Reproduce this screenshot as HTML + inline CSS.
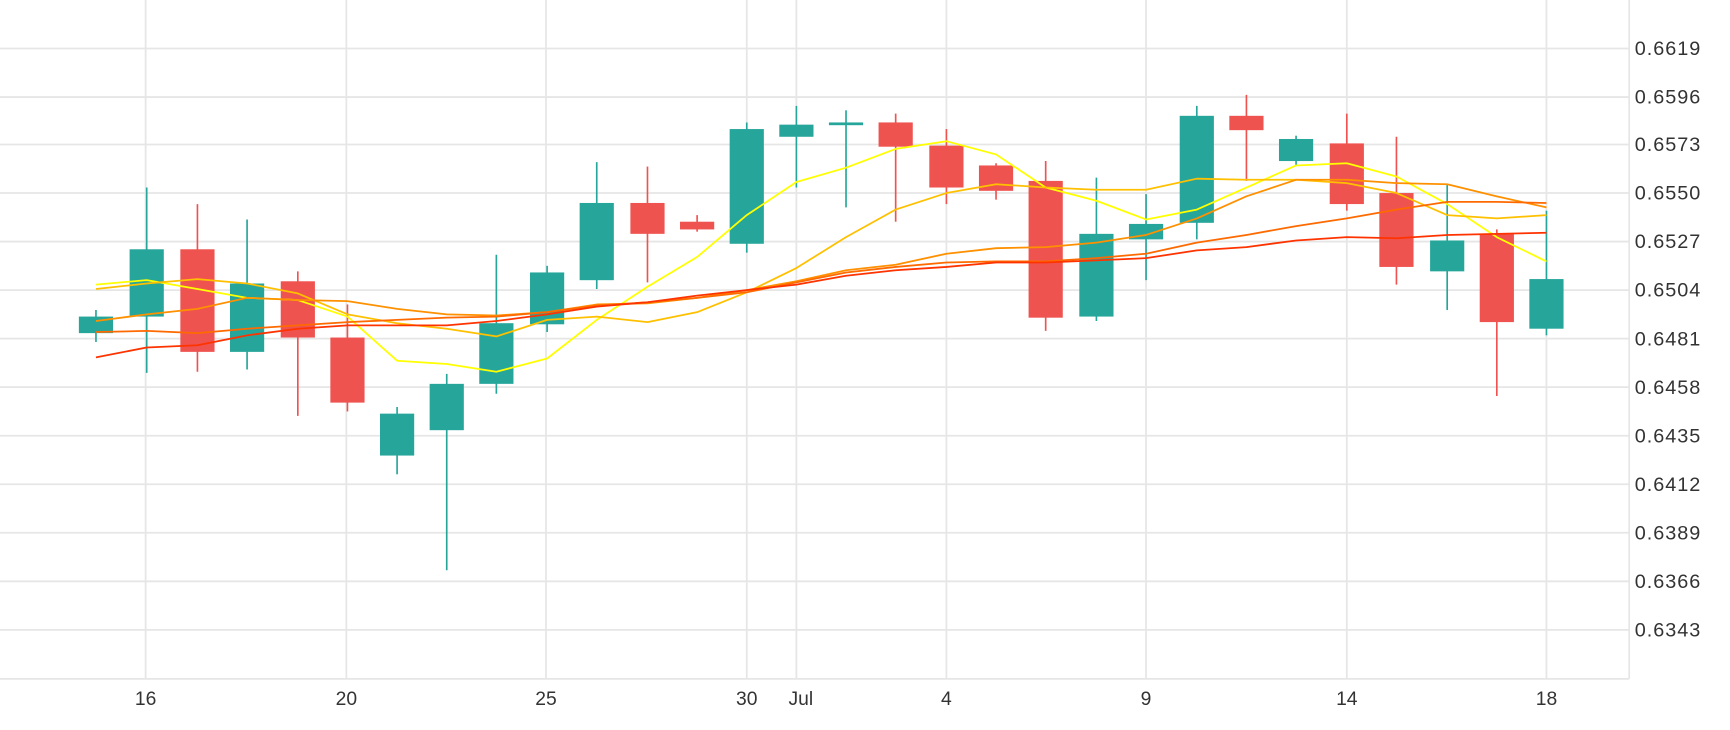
<!DOCTYPE html>
<html><head><meta charset="utf-8"><style>
html,body{margin:0;padding:0;background:#fff;}
svg{display:block;}
text{font-family:"Liberation Sans",sans-serif;fill:#333;font-size:17.5px;}
.y text{font-size:18px;letter-spacing:0.9px;}
</style></head><body>
<svg width="1730" height="730" viewBox="0 0 1568.4 661.8" preserveAspectRatio="none" xmlns="http://www.w3.org/2000/svg">
<g stroke="#e6e6e6" stroke-width="1.6">
<line x1="0" y1="44" x2="1477" y2="44"/><line x1="0" y1="88" x2="1477" y2="88"/><line x1="0" y1="131" x2="1477" y2="131"/><line x1="0" y1="175" x2="1477" y2="175"/><line x1="0" y1="219" x2="1477" y2="219"/><line x1="0" y1="263" x2="1477" y2="263"/><line x1="0" y1="307" x2="1477" y2="307"/><line x1="0" y1="351" x2="1477" y2="351"/><line x1="0" y1="395" x2="1477" y2="395"/><line x1="0" y1="439" x2="1477" y2="439"/><line x1="0" y1="483" x2="1477" y2="483"/><line x1="0" y1="527" x2="1477" y2="527"/><line x1="0" y1="571" x2="1477" y2="571"/>
<line x1="0" y1="615.5" x2="1477" y2="615.5"/>
<line x1="1477" y1="0" x2="1477" y2="615.5"/>
<line x1="132" y1="0" x2="132" y2="615"/><line x1="314" y1="0" x2="314" y2="615"/><line x1="495" y1="0" x2="495" y2="615"/><line x1="677" y1="0" x2="677" y2="615"/><line x1="722" y1="0" x2="722" y2="615"/><line x1="858" y1="0" x2="858" y2="615"/><line x1="1039" y1="0" x2="1039" y2="615"/><line x1="1221" y1="0" x2="1221" y2="615"/><line x1="1402" y1="0" x2="1402" y2="615"/>
</g>
<g class="y">
<text x="1482" y="50">0.6619</text><text x="1482" y="94">0.6596</text><text x="1482" y="137">0.6573</text><text x="1482" y="181">0.6550</text><text x="1482" y="225">0.6527</text><text x="1482" y="269">0.6504</text><text x="1482" y="313">0.6481</text><text x="1482" y="357">0.6458</text><text x="1482" y="401">0.6435</text><text x="1482" y="445">0.6412</text><text x="1482" y="489">0.6389</text><text x="1482" y="533">0.6366</text><text x="1482" y="577">0.6343</text>
</g>
<g text-anchor="middle">
<text x="132" y="639">16</text><text x="314" y="639">20</text><text x="495" y="639">25</text><text x="677" y="639">30</text><text x="726" y="639">Jul</text><text x="858" y="639">4</text><text x="1039" y="639">9</text><text x="1221" y="639">14</text><text x="1402" y="639">18</text>
</g>
<g stroke-width="1.5">
<g stroke="#26a69a" fill="#26a69a">
<line x1="87" x2="87" y1="281" y2="310"/><rect x="71.5" y="287" width="31" height="15" stroke="none"/>
<line x1="133" x2="133" y1="170" y2="338"/><rect x="117.5" y="226" width="31" height="61" stroke="none"/>
<line x1="224" x2="224" y1="199" y2="335"/><rect x="208.5" y="257" width="31" height="62" stroke="none"/>
<line x1="360" x2="360" y1="369" y2="430"/><rect x="344.5" y="375" width="31" height="38" stroke="none"/>
<line x1="405" x2="405" y1="339" y2="517"/><rect x="389.5" y="348" width="31" height="42" stroke="none"/>
<line x1="450" x2="450" y1="231" y2="357"/><rect x="434.5" y="293" width="31" height="55" stroke="none"/>
<line x1="496" x2="496" y1="241" y2="301"/><rect x="480.5" y="247" width="31" height="47" stroke="none"/>
<line x1="541" x2="541" y1="147" y2="262"/><rect x="525.5" y="184" width="31" height="70" stroke="none"/>
<line x1="677" x2="677" y1="111" y2="229"/><rect x="661.5" y="117" width="31" height="104" stroke="none"/>
<line x1="722" x2="722" y1="96" y2="170"/><rect x="706.5" y="113" width="31" height="11" stroke="none"/>
<line x1="767" x2="767" y1="100" y2="188"/><rect x="751.5" y="111" width="31" height="2.5" stroke="none"/>
<line x1="994" x2="994" y1="161" y2="291"/><rect x="978.5" y="212" width="31" height="75" stroke="none"/>
<line x1="1039" x2="1039" y1="176" y2="254"/><rect x="1023.5" y="203" width="31" height="14" stroke="none"/>
<line x1="1085" x2="1085" y1="96" y2="217"/><rect x="1069.5" y="105" width="31" height="97" stroke="none"/>
<line x1="1175" x2="1175" y1="123" y2="150"/><rect x="1159.5" y="126" width="31" height="20" stroke="none"/>
<line x1="1312" x2="1312" y1="167" y2="281"/><rect x="1296.5" y="218" width="31" height="28" stroke="none"/>
<line x1="1402" x2="1402" y1="191" y2="304"/><rect x="1386.5" y="253" width="31" height="45" stroke="none"/>
</g>
<g stroke="#ef5350" fill="#ef5350">
<line x1="179" x2="179" y1="185" y2="337"/><rect x="163.5" y="226" width="31" height="93" stroke="none"/>
<line x1="270" x2="270" y1="246" y2="377"/><rect x="254.5" y="255" width="31" height="51" stroke="none"/>
<line x1="315" x2="315" y1="276" y2="373"/><rect x="299.5" y="306" width="31" height="59" stroke="none"/>
<line x1="587" x2="587" y1="151" y2="256"/><rect x="571.5" y="184" width="31" height="28" stroke="none"/>
<line x1="632" x2="632" y1="195" y2="210"/><rect x="616.5" y="201" width="31" height="7" stroke="none"/>
<line x1="812" x2="812" y1="103" y2="201"/><rect x="796.5" y="111" width="31" height="22" stroke="none"/>
<line x1="858" x2="858" y1="117" y2="185"/><rect x="842.5" y="132" width="31" height="38" stroke="none"/>
<line x1="903" x2="903" y1="148" y2="181"/><rect x="887.5" y="150" width="31" height="23" stroke="none"/>
<line x1="948" x2="948" y1="146" y2="300"/><rect x="932.5" y="164" width="31" height="124" stroke="none"/>
<line x1="1130" x2="1130" y1="86" y2="164"/><rect x="1114.5" y="105" width="31" height="13" stroke="none"/>
<line x1="1221" x2="1221" y1="103" y2="191"/><rect x="1205.5" y="130" width="31" height="55" stroke="none"/>
<line x1="1266" x2="1266" y1="124" y2="258"/><rect x="1250.5" y="175" width="31" height="67" stroke="none"/>
<line x1="1357" x2="1357" y1="208" y2="359"/><rect x="1341.5" y="212" width="31" height="80" stroke="none"/>
</g>
</g>
<g fill="none" stroke-width="1.6" stroke-linejoin="round">
<polyline stroke="#ffff00" points="87,258 133,254 179,262 224,270 270,272 315,287 360,327 405,330 450,337 496,325 541,290 587,260 632,233 677,195 722,165 767,152 812,135 858,128 903,140 948,170 994,182 1039,199 1085,190 1130,170 1175,150 1221,148 1266,160 1312,185 1357,215 1402,237"/>
<polyline stroke="#ffc000" points="87,262 133,257 179,253 224,257 270,266 315,285 360,293 405,298 450,305 496,290 541,287 587,292 632,283 677,265 722,243 767,215 812,190 858,175 903,167 948,170 994,172 1039,172 1085,162 1130,163 1175,163 1221,166 1266,175 1312,195 1357,198 1402,195"/>
<polyline stroke="#ff9000" points="87,291 133,285 179,280 224,270 270,272 315,273 360,280 405,285 450,286 496,283 541,276 587,275 632,270 677,263 722,255 767,245 812,240 858,230 903,225 948,224 994,220 1039,213 1085,198 1130,178 1175,163 1221,163 1266,166 1312,167 1357,178 1402,188"/>
<polyline stroke="#ff6a00" points="87,301 133,300 179,302 224,298 270,295 315,292 360,290 405,288 450,287 496,283 541,277 587,274 632,270 677,265 722,256 767,247 812,242 858,238 903,237 948,237 994,234 1039,230 1085,220 1130,213 1175,205 1221,198 1266,190 1312,183 1357,183 1402,184"/>
<polyline stroke="#ff3300" points="87,324 133,315 179,313 224,304 270,298 315,295 360,295 405,295 450,291 496,285 541,278 587,274 632,268 677,263 722,258 767,250 812,245 858,242 903,238 948,238 994,236 1039,234 1085,227 1130,224 1175,218 1221,215 1266,216 1312,213 1357,212 1402,211"/>
</g>
</svg>
</body></html>
